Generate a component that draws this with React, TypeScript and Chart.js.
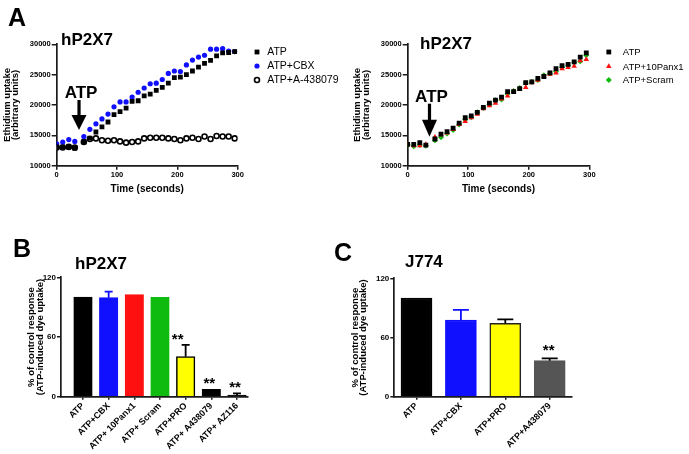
import React, { useEffect, useRef } from 'react';
import { Chart, registerables } from 'chart.js';

Chart.register(...registerables);

const FONT = "'Liberation Sans', Arial, Helvetica, sans-serif";
Chart.defaults.font.family = FONT;
Chart.defaults.color = '#000';

// ---------- Data: panel A (time course) ----------
const timeSec = [0, 10, 20, 30, 45, 55, 65, 75, 85, 95, 105, 115, 125, 135, 145, 155, 165, 175, 185, 195, 205, 215, 225, 235, 245, 255, 265, 275, 285, 295];

const leftATP = [13100, 13100, 13100, 12850, 13950, 14550, 15550, 16400, 17200, 18400, 18900, 19500, 20600, 20700, 21500, 21800, 22400, 22900, 23600, 24500, 24600, 25000, 25600, 26250, 26850, 27350, 28100, 28600, 28650, 28800];
const leftCBX = [13600, 13900, 14300, 14000, 14800, 16000, 16900, 17700, 18500, 19700, 20500, 20500, 21300, 22100, 22800, 23500, 23600, 24200, 25200, 25600, 25500, 26600, 27400, 27900, 28200, 29200, 29200, 29300, 28900, 28800];
const leftA438079 = [13000, 13000, 13100, 13000, 13900, 14400, 14500, 14200, 14100, 14200, 14000, 13800, 13900, 14000, 14500, 14600, 14600, 14600, 14500, 14400, 14200, 14500, 14600, 14400, 14800, 14400, 14900, 14800, 14800, 14500];

const rightATP = [13500, 13500, 13800, 13400, 14400, 15200, 15600, 16200, 17000, 17900, 18200, 18800, 19600, 20300, 20800, 21300, 22200, 22200, 22700, 23700, 23800, 24400, 24700, 25300, 26000, 26500, 26700, 27100, 27900, 28600];
const right10Panx1 = [13500, 13300, 13300, 13500, 14700, 15100, 15400, 16000, 16800, 17300, 17900, 18500, 19400, 19900, 20300, 21000, 21500, 22200, 22600, 22900, 23700, 24100, 24700, 25100, 25300, 26000, 26200, 26400, 27300, 27500];
const rightScram = [13500, 13200, 13400, 13300, 14200, 14700, 15300, 15900, 16800, 17600, 18000, 18800, 19500, 20100, 20800, 20900, 21800, 22300, 22800, 23600, 23800, 24100, 24900, 25200, 25500, 26200, 26500, 27000, 27200, 28200];

const xTicksA = [0, 100, 200, 300];
const yTicksA = [10000, 15000, 20000, 25000, 30000];

// ---------- Data: panel B (hP2X7 bars) ----------
const catsB = ['ATP', 'ATP+CBX', 'ATP+ 10Panx1', 'ATP+ Scram', 'ATP+PRO', 'ATP+ A438079', 'ATP+ AZ116'];
const valsB = [100, 99.5, 102.6, 99.9, 40.2, 7.4, 1.7];
const errB = [0, 6.1, 0, 0, 11.8, 0, 1.7];
const sigB = ['', '', '', '', '**', '**', '**'];

// ---------- Data: panel C (J774 bars) ----------
const catsC = ['ATP', 'ATP+CBX', 'ATP+PRO', 'ATP+A438079'];
const valsC = [100, 77.7, 74.4, 36.5];
const errC = [0, 10.2, 4.0, 2.4];
const sigC = ['', '', '', '**'];

const yTicksBar = [0, 60, 120];

// ---------- Styling ----------
const AXIS = '#1a1a1a';
const BLUE = '#1010ff';
const RED = '#ff1010';
const GREEN = '#10bb10';
const YELLOW = '#ffff00';
const GREY = '#555555';

function drawMarker(ctx: CanvasRenderingContext2D, style: string, x: number, y: number, r: number, fill: string, stroke: string, bw: number) {
  ctx.save();
  ctx.fillStyle = fill;
  ctx.strokeStyle = stroke;
  ctx.lineWidth = bw;
  ctx.beginPath();
  if (style === 'rect') {
    const s = r * Math.SQRT1_2;
    ctx.rect(x - s, y - s, 2 * s, 2 * s);
  } else if (style === 'triangle') {
    ctx.moveTo(x, y - r);
    ctx.lineTo(x + r * 0.866, y + r * 0.5);
    ctx.lineTo(x - r * 0.866, y + r * 0.5);
    ctx.closePath();
  } else if (style === 'rectRot') {
    ctx.moveTo(x, y - r);
    ctx.lineTo(x + r, y);
    ctx.lineTo(x, y + r);
    ctx.lineTo(x - r, y);
    ctx.closePath();
  } else {
    ctx.arc(x, y, r, 0, Math.PI * 2);
  }
  ctx.fill();
  if (bw > 0) ctx.stroke();
  ctx.restore();
}

const legendPlugin = {
  id: 'sideLegend',
  afterDraw(chart: any, _a: any, o: any) {
    const { ctx, chartArea } = chart;
    chart.data.datasets.forEach((ds: any, i: number) => {
      const y = chartArea.top + o.rowY[i];
      drawMarker(ctx, ds.pointStyle, chartArea.right + o.markerDx, y, ds.pointRadius, ds.pointBackgroundColor, ds.pointBorderColor, ds.pointBorderWidth);
      ctx.save();
      ctx.fillStyle = '#000';
      ctx.font = `${o.fontSize}px ${FONT}`;
      ctx.textBaseline = 'middle';
      ctx.textAlign = 'left';
      ctx.fillText(ds.label, chartArea.right + o.textDx, y + 0.5);
      ctx.restore();
    });
  },
};

const arrowPlugin = {
  id: 'atpArrow',
  afterDraw(chart: any, _a: any, o: any) {
    const { ctx } = chart;
    const x = chart.scales.x.getPixelForValue(o.t);
    const tip = chart.scales.y.getPixelForValue(o.tip);
    ctx.save();
    ctx.fillStyle = '#000';
    ctx.beginPath();
    ctx.moveTo(x, tip);
    ctx.lineTo(x - 7.5, tip - o.head);
    ctx.lineTo(x + 7.5, tip - o.head);
    ctx.closePath();
    ctx.fill();
    ctx.fillRect(x - 1.6, tip - o.head - o.shaft, 3.2, o.shaft + 1);
    ctx.font = `bold 17px ${FONT}`;
    ctx.textAlign = 'center';
    ctx.textBaseline = 'alphabetic';
    ctx.fillText(o.text, x + 2, tip - o.head - o.shaft - 2);
    ctx.restore();
  },
};

const barExtrasPlugin = {
  id: 'barExtras',
  afterDatasetsDraw(chart: any, _a: any, o: any) {
    const { ctx } = chart;
    const meta = chart.getDatasetMeta(0);
    const ys = chart.scales.y;
    o.values.forEach((v: number, i: number) => {
      const bar = meta.data[i];
      const e = o.errors[i];
      const topPx = ys.getPixelForValue(v + e);
      if (e > 0) {
        ctx.save();
        ctx.strokeStyle = o.errColors[i];
        ctx.lineWidth = 1.8;
        ctx.beginPath();
        ctx.moveTo(bar.x, ys.getPixelForValue(v));
        ctx.lineTo(bar.x, topPx);
        ctx.moveTo(bar.x - o.cap, topPx);
        ctx.lineTo(bar.x + o.cap, topPx);
        ctx.stroke();
        ctx.restore();
      }
      if (o.sig[i]) {
        ctx.save();
        ctx.fillStyle = '#000';
        ctx.font = `bold 15px ${FONT}`;
        ctx.textAlign = 'center';
        ctx.textBaseline = 'alphabetic';
        ctx.fillText(o.sig[i], bar.x + (o.sigDx[i] || 0), topPx - o.sigGap + 8.3);
        ctx.restore();
      }
    });
  },
};

type Series = { label: string; values: number[]; style: string; radius: number; fill: string; stroke: string; bw: number };

function lineConfig(o: {
  series: Series[];
  yAxisWidth: number;
  padRight: number;
  padTop: number;
  xAxisHeight: number;
  yTitlePad: number;
  legend: any;
  arrow: any;
}) {
  const tickFont = { size: 7.5, weight: 'bold' as const };
  return {
    type: 'scatter',
    data: {
      datasets: o.series.map((s) => ({
        label: s.label,
        data: timeSec.map((t, i) => ({ x: t, y: s.values[i] })),
        showLine: false,
        pointStyle: s.style,
        pointRadius: s.radius,
        pointBackgroundColor: s.fill,
        pointBorderColor: s.stroke,
        pointBorderWidth: s.bw,
      })),
    },
    options: {
      animation: false,
      responsive: false,
      events: [],
      layout: { padding: { left: 0, top: o.padTop, right: o.padRight, bottom: 0 } },
      plugins: {
        legend: { display: false },
        tooltip: { enabled: false },
        sideLegend: o.legend,
        atpArrow: o.arrow,
      },
      scales: {
        x: {
          type: 'linear',
          min: 0,
          max: 300,
          afterBuildTicks: (s: any) => { s.ticks = xTicksA.map((v) => ({ value: v })); },
          ticks: { font: tickFont, color: '#000', padding: 1, callback: (v: any) => String(v) },
          grid: { drawOnChartArea: false, drawTicks: true, tickLength: 4, color: AXIS, lineWidth: 1.5 },
          border: { display: true, color: AXIS, width: 1.7 },
          title: { display: true, text: 'Time (seconds)', color: '#000', font: { size: 10, weight: 'bold', lineHeight: 1.2 }, padding: { top: 0, bottom: 10 } },
          afterFit: (s: any) => { s.height = o.xAxisHeight; },
        },
        y: {
          type: 'linear',
          min: 10000,
          max: 30000,
          afterBuildTicks: (s: any) => { s.ticks = yTicksA.map((v) => ({ value: v })); },
          ticks: { font: tickFont, color: '#000', padding: 1, callback: (v: any) => String(v) },
          grid: { drawOnChartArea: false, drawTicks: true, tickLength: 5, color: AXIS, lineWidth: 1.5 },
          border: { display: true, color: AXIS, width: 1.7 },
          title: { display: true, text: ['Ethidium uptake', '(arbitrary units)'], color: '#000', font: { size: 9.5, weight: 'bold', lineHeight: 0.9 }, padding: { top: o.yTitlePad, bottom: 0 } },
          afterFit: (s: any) => { s.width = o.yAxisWidth; },
        },
      },
    },
    plugins: [legendPlugin, arrowPlugin],
  };
}

function barConfig(o: {
  cats: string[];
  values: number[];
  errors: number[];
  sig: string[];
  sigDx: number[];
  sigGap: number;
  fills: string[];
  borders: string[];
  errColors: string[];
  barW: number;
  cap: number;
  xMin: number;
  xMax: number;
  yAxisWidth: number;
  padTop: number;
  padRight: number;
  xAxisHeight: number;
  yTitlePad: number;
}) {
  const tickFont = { size: 9, weight: 'bold' as const };
  return {
    type: 'bar',
    data: {
      datasets: [{
        data: o.values.map((v, i) => ({ x: i, y: v })),
        backgroundColor: o.fills,
        borderColor: o.borders,
        borderWidth: 1.5,
        borderSkipped: 'start',
        barThickness: o.barW,
      }],
    },
    options: {
      animation: false,
      responsive: false,
      events: [],
      layout: { padding: { left: 0, top: o.padTop, right: o.padRight, bottom: 0 } },
      plugins: {
        legend: { display: false },
        tooltip: { enabled: false },
        barExtras: { values: o.values, errors: o.errors, sig: o.sig, sigDx: o.sigDx, errColors: o.errColors, cap: o.cap, sigGap: o.sigGap },
      },
      scales: {
        x: {
          type: 'linear',
          min: o.xMin,
          max: o.xMax,
          offset: false,
          afterBuildTicks: (s: any) => { s.ticks = o.cats.map((_c, i) => ({ value: i })); },
          ticks: { autoSkip: false, minRotation: 45, maxRotation: 45, font: tickFont, color: '#000', padding: 1, callback: (v: any) => o.cats[v] ?? '' },
          grid: { offset: false, drawOnChartArea: false, drawTicks: true, tickLength: 3, color: AXIS, lineWidth: 1.5 },
          border: { display: true, color: AXIS, width: 1.7 },
          afterFit: (s: any) => { s.height = o.xAxisHeight; },
        },
        y: {
          type: 'linear',
          min: 0,
          max: 120,
          afterBuildTicks: (s: any) => { s.ticks = yTicksBar.map((v) => ({ value: v })); },
          ticks: { font: { size: 8, weight: 'bold' }, color: '#000', padding: 1, callback: (v: any) => String(v) },
          grid: { drawOnChartArea: false, drawTicks: true, tickLength: 4, color: AXIS, lineWidth: 1.5 },
          border: { display: true, color: AXIS, width: 1.7 },
          title: { display: true, text: ['% of control response', '(ATP-induced dye uptake)'], color: '#000', font: { size: 9.5, weight: 'bold', lineHeight: 0.9 }, padding: { top: o.yTitlePad, bottom: 0 } },
          afterFit: (s: any) => { s.width = o.yAxisWidth; },
        },
      },
    },
    plugins: [barExtrasPlugin],
  };
}

type Box = { left: number; top: number; width: number; height: number };

function ChartBox({ box, make }: { box: Box; make: () => any }) {
  const ref = useRef<HTMLCanvasElement | null>(null);
  useEffect(() => {
    const chart = new Chart(ref.current as HTMLCanvasElement, make());
    return () => chart.destroy();
  }, []);
  return (
    <canvas
      ref={ref}
      width={box.width}
      height={box.height}
      style={{ position: 'absolute', left: box.left, top: box.top, width: box.width, height: box.height }}
    />
  );
}

function Label({ text, left, top, size }: { text: string; left: number; top: number; size: number }) {
  return (
    <div style={{ position: 'absolute', left, top, fontFamily: FONT, fontWeight: 'bold', fontSize: size, lineHeight: 1, color: '#000', whiteSpace: 'nowrap' }}>
      {text}
    </div>
  );
}

export default function App() {
  const makeA1 = () => lineConfig({
    series: [
      { label: 'ATP', values: leftATP, style: 'rect', radius: 3.4, fill: '#000', stroke: '#000', bw: 0 },
      { label: 'ATP+CBX', values: leftCBX, style: 'circle', radius: 2.6, fill: BLUE, stroke: BLUE, bw: 0 },
      { label: 'ATP+A-438079', values: leftA438079, style: 'circle', radius: 2.5, fill: '#fff', stroke: '#000', bw: 1.6 },
    ],
    yAxisWidth: 56.7,
    padRight: 107.3,
    padTop: 14.3,
    xAxisHeight: 39.3,
    yTitlePad: 2.7,
    legend: { markerDx: 19.3, textDx: 29.5, rowY: [7.7, 21.7, 35.7], fontSize: 10.5 },
    arrow: { t: 37, tip: 15880, head: 15, shaft: 15, text: 'ATP' },
  });

  const makeA2 = () => lineConfig({
    series: [
      { label: 'ATP', values: rightATP, style: 'rect', radius: 3.4, fill: '#000', stroke: '#000', bw: 0 },
      { label: 'ATP+10Panx1', values: right10Panx1, style: 'triangle', radius: 3.2, fill: RED, stroke: RED, bw: 0 },
      { label: 'ATP+Scram', values: rightScram, style: 'rectRot', radius: 3.0, fill: GREEN, stroke: GREEN, bw: 0 },
    ],
    yAxisWidth: 62.7,
    padRight: 99.7,
    padTop: 14.3,
    xAxisHeight: 39.3,
    yTitlePad: 8.2,
    legend: { markerDx: 19.5, textDx: 33.5, rowY: [7.7, 22.2, 35.7], fontSize: 9.5 },
    arrow: { t: 36, tip: 14780, head: 17, shaft: 16, text: 'ATP' },
  });

  const makeB = () => barConfig({
    cats: catsB,
    values: valsB,
    errors: errB,
    sig: sigB,
    sigDx: [0, 0, 0, 0, -8, -2, -2],
    sigGap: 9.5,
    fills: ['#000', BLUE, RED, GREEN, YELLOW, '#000', '#000'],
    borders: ['#000', BLUE, RED, GREEN, '#000', '#000', '#000'],
    errColors: ['#000', BLUE, RED, GREEN, '#000', '#000', '#000'],
    barW: 18.5,
    cap: 4,
    xMin: -0.857,
    xMax: 6.43,
    yAxisWidth: 61,
    padTop: 47.3,
    padRight: 12,
    xAxisHeight: 57.3,
    yTitlePad: 27.2,
  });

  const makeC = () => barConfig({
    cats: catsC,
    values: valsC,
    errors: errC,
    sig: sigC,
    sigDx: [0, 0, 0, -1],
    sigGap: 12,
    fills: ['#000', BLUE, YELLOW, GREY],
    borders: ['#000', BLUE, '#222', GREY],
    errColors: ['#000', BLUE, '#000', '#000'],
    barW: 31,
    cap: 8,
    xMin: -0.5,
    xMax: 3.5,
    yAxisWidth: 54.3,
    padTop: 48.3,
    padRight: 18.1,
    xAxisHeight: 57.3,
    yTitlePad: 10.7,
  });

  return (
    <div style={{ position: 'absolute', left: 0, top: 0, width: 689, height: 454, background: '#fff', overflow: 'hidden' }}>
      <ChartBox box={{ left: 0, top: 30, width: 345, height: 175 }} make={makeA1} />
      <ChartBox box={{ left: 345, top: 30, width: 344, height: 175 }} make={makeA2} />
      <ChartBox box={{ left: 0, top: 230, width: 260, height: 224 }} make={makeB} />
      <ChartBox box={{ left: 340, top: 230, width: 250, height: 224 }} make={makeC} />
      <Label text="A" left={8} top={5} size={25} />
      <Label text="B" left={13} top={236} size={25} />
      <Label text="C" left={334} top={240} size={25} />
      <Label text="hP2X7" left={61} top={30.6} size={17} />
      <Label text="hP2X7" left={420} top={34.6} size={17} />
      <Label text="hP2X7" left={75} top={254.6} size={17} />
      <Label text="J774" left={405} top={253} size={17} />
    </div>
  );
}
